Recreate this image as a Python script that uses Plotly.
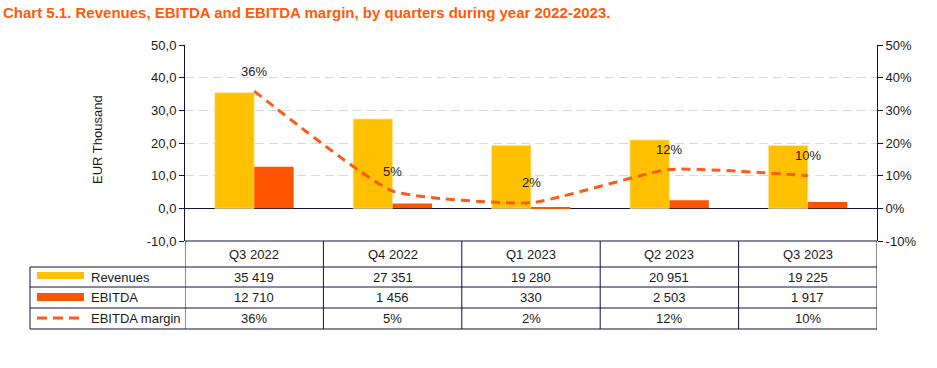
import plotly.graph_objects as go

# ---- data ----
quarters = ["Q3 2022", "Q4 2022", "Q1 2023", "Q2 2023", "Q3 2023"]
revenues = [35419, 27351, 19280, 20951, 19225]          # EUR thousand
ebitda = [12710, 1456, 330, 2503, 1917]                 # EUR thousand
ebitda_margin = [0.359, 0.053, 0.017, 0.119, 0.100]     # share
left_ticks = [-10, 0, 10, 20, 30, 40, 50]
left_tick_labels = ["-10,0", "0,0", "10,0", "20,0", "30,0", "40,0", "50,0"]
right_ticks = [-0.1, 0, 0.1, 0.2, 0.3, 0.4, 0.5]
right_tick_labels = ["-10%", "0%", "10%", "20%", "30%", "40%", "50%"]
row_names = ["Revenues", "EBITDA", "EBITDA margin"]

# ---- styling ----
W, H = 937, 368
L, R, T, B = 185, 60, 45, 127
PW, PH = W - L - R, H - T - B
FONT = "Liberation Sans, Arial, sans-serif"
FS = 13
NAVY = "#10103f"
C_REV = "#ffc000"
C_EB = "#ff5500"
C_LINE = "#ff5a1a"
TXT = "#1a1a1a"


def px(xp):
    return (xp - L) / PW


def py(yp):
    return (H - B - yp) / PH


def fmt_thousands(v):
    return f"{v:,}".replace(",", " ")


fnt = dict(size=FS, color=TXT, family=FONT)

fig = go.Figure()
fig.add_bar(x=quarters, y=[v / 1000 for v in revenues], name=row_names[0],
            marker=dict(color=C_REV, line=dict(color="#ffe6a0", width=0.8)))
fig.add_bar(x=quarters, y=[v / 1000 for v in ebitda], name=row_names[1],
            marker=dict(color=C_EB, line=dict(width=0)))
fig.add_scatter(x=quarters, y=ebitda_margin, name=row_names[2], yaxis="y2",
                mode="lines", line=dict(color=C_LINE, width=3, dash="9px,6px",
                                        shape="spline", smoothing=0.45))

annotations = []
shapes = []

# data labels for margin line
for q, m in zip(quarters, ebitda_margin):
    annotations.append(dict(x=q, y=m, xref="x", yref="y2", yshift=20,
                            xanchor="center", yanchor="middle",
                            text=f"{m:.0%}", showarrow=False, font=fnt))

# axis title
annotations.append(dict(x=px(97), y=py(140), xref="paper", yref="paper",
                        xanchor="center", yanchor="middle",
                        text="EUR Thousand", textangle=-90, showarrow=False, font=fnt))

# table geometry (pixel rows)
row_tops = [241, 267, 287, 308, 329]
row_centers = [254, 277, 297, 318]

for i, q in enumerate(quarters):
    cells = [q, fmt_thousands(revenues[i]), fmt_thousands(ebitda[i]),
             f"{ebitda_margin[i]:.0%}"]
    for txt, yc in zip(cells, row_centers):
        annotations.append(dict(x=i, y=py(yc), xref="x", yref="paper",
                                xanchor="center", yanchor="middle",
                                text=txt, showarrow=False, font=fnt))

for name, yc in zip(row_names, row_centers[1:]):
    annotations.append(dict(x=px(89), y=py(yc), xref="paper", yref="paper",
                            xanchor="left", yanchor="middle",
                            text=name, showarrow=False, font=fnt))

# legend swatches
shapes.append(dict(type="rect", xref="paper", yref="paper", x0=px(37), x1=px(84),
                   y0=py(279), y1=py(272), fillcolor=C_REV, line=dict(width=0)))
shapes.append(dict(type="rect", xref="paper", yref="paper", x0=px(37), x1=px(84),
                   y0=py(301), y1=py(293), fillcolor=C_EB, line=dict(width=0)))
shapes.append(dict(type="line", xref="paper", yref="paper", x0=px(37), x1=px(84),
                   y0=py(318), y1=py(318),
                   line=dict(color=C_LINE, width=3, dash="10px,6px")))

# table lines
ln = dict(color=NAVY, width=1)
shapes.append(dict(type="line", xref="paper", yref="paper", x0=0, x1=1,
                   y0=py(241), y1=py(241), line=ln))
for yt in row_tops[1:]:
    shapes.append(dict(type="line", xref="paper", yref="paper", x0=px(30), x1=1,
                       y0=py(yt), y1=py(yt), line=ln))
shapes.append(dict(type="line", xref="paper", yref="paper", x0=px(30), x1=px(30),
                   y0=py(267), y1=py(329), line=ln))
for k in range(len(quarters) + 1):
    shapes.append(dict(type="line", xref="x", yref="paper", x0=k - 0.5, x1=k - 0.5,
                       y0=py(241), y1=py(329), line=ln))

fig.update_layout(
    width=W, height=H,
    margin=dict(l=L, r=R, t=T, b=B, pad=0),
    paper_bgcolor="white", plot_bgcolor="white",
    font=fnt,
    title=dict(text="<b>Chart 5.1. Revenues, EBITDA and EBITDA margin, by quarters during year 2022-2023.</b>",
               x=3 / W, xanchor="left", xref="container", y=1 - 13 / H, yanchor="middle",
               font=dict(family=FONT, size=15, color="#ff5a0a")),
    barmode="group", bargap=0.43, bargroupgap=0,
    showlegend=False,
    xaxis=dict(showticklabels=False, showgrid=False, zeroline=False,
               showline=False, ticks="", range=[-0.5, 4.5]),
    yaxis=dict(range=[-10, 50], tickvals=left_ticks, ticktext=left_tick_labels,
               showgrid=True, gridcolor="#cfd8ec", griddash="9px,5px", gridwidth=1,
               zeroline=True, zerolinecolor=NAVY, zerolinewidth=1,
               showline=True, linecolor=NAVY, linewidth=1,
               ticks="outside", ticklen=5, tickcolor=NAVY, tickfont=fnt),
    yaxis2=dict(range=[-0.1, 0.5], tickvals=right_ticks, ticktext=right_tick_labels,
                overlaying="y", side="right", showgrid=False, zeroline=False,
                showline=True, linecolor=NAVY, linewidth=1,
                ticks="outside", ticklen=5, tickcolor=NAVY, tickfont=fnt),
    annotations=annotations,
    shapes=shapes,
    hovermode=False,
)

fig.write_html("out.html", config={"displayModeBar": False},
               post_script="document.body.style.margin='0';")
